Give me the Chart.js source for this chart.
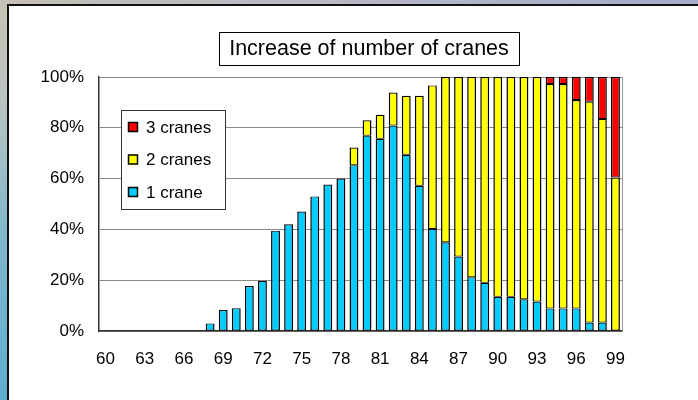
<!DOCTYPE html>
<html>
<head>
<meta charset="utf-8">
<script src="https://cdn.jsdelivr.net/npm/chart.js@4.4.1/dist/chart.umd.min.js"></script>
<style>
  html, body { margin: 0; padding: 0; }
  body {
    width: 698px; height: 400px; overflow: hidden; position: relative;
    background: linear-gradient(180deg, #c9c2b4 0%, #b9c4c2 25%, #7fb6cc 60%, #5eaed0 100%);
  }
  .top { position: absolute; left: 0; top: 0; width: 698px; height: 6px;
    background: linear-gradient(90deg, #c4bfb6 0%, #b7b8c6 50%, #a3acc8 100%); }
  .panel { position: absolute; left: 7px; top: 4px; width: 700px; height: 400px;
    background: #fff; border-left: 2px solid #111; border-top: 2px solid #111; }
  canvas { position: absolute; left: 0; top: 0; }
</style>
</head>
<body>
<div class="top"></div>
<div class="panel"></div>
<canvas id="chart" width="698" height="400"></canvas>
<script>
const titleText = 'Increase of number of cranes'

const years = []
for (let y = 60; y <= 99; y++) years.push(String(y))

// years 60..99
const oneCrane = [
  null, null, null, null, null, null, null, null, 3, 8.3,
  9, 17.7, 19.8, 39.5, 42, 47, 53, 57.7, 60, 65.3,
  76.9, 75.7, 80.9, 69.4, 57.2, 40.2, 34.9, 29.3, 21.2, 19,
  13.5, 13.5, 12.5, 11.6, 8.9, 8.9, 8.9, 3.3, 3.3, null
]
const twoCranes = [
  null, null, null, null, null, null, null, null, null, null,
  null, null, null, null, null, null, null, null, null, 6.9,
  6.1, 9.4, 13.0, 23.2, 35.4, 56.5, 65.1, 70.7, 78.8, 81,
  86.5, 86.5, 87.5, 88.4, 88.3, 88.3, 82, 87, 80.2, 60.4
]
const threeCranes = [
  null, null, null, null, null, null, null, null, null, null,
  null, null, null, null, null, null, null, null, null, null,
  null, null, null, null, null, null, null, null, null, null,
  null, null, null, null, 2.8, 2.8, 9.1, 9.7, 16.5, 39.6
]
const yTicks = [0, 20, 40, 60, 80, 100]

const font = 'Liberation Sans, Arial, sans-serif'

const decorations = {
  id: 'decorations',
  afterDraw(chart) {
    const ctx = chart.ctx
    const a = chart.chartArea
    ctx.save()
    // right edge of plot
    ctx.strokeStyle = '#9a9a9a'
    ctx.lineWidth = 1
    ctx.beginPath()
    ctx.moveTo(a.right + 0.5, a.top)
    ctx.lineTo(a.right + 0.5, a.bottom)
    ctx.stroke()

    // title box
    ctx.font = '21.5px ' + font
    const tw = ctx.measureText(titleText).width
    const cx = 369, cy = 48
    ctx.fillStyle = '#fff'
    ctx.fillRect(cx - 150, 32, 300, 33)
    ctx.strokeStyle = '#000'
    ctx.strokeRect(cx - 150 + 0.5, 32.5, 300, 33)
    ctx.fillStyle = '#000'
    ctx.textAlign = 'center'
    ctx.textBaseline = 'middle'
    ctx.fillText(titleText, cx, cy + 1)

    // legend box, top entry is last dataset
    ctx.fillStyle = '#fff'
    ctx.fillRect(121, 110, 104, 99)
    ctx.strokeStyle = '#333'
    ctx.strokeRect(121.5, 110.5, 104, 99)
    const ds = chart.data.datasets.slice().reverse()
    ctx.font = '17px ' + font
    ctx.textAlign = 'left'
    ds.forEach((d, i) => {
      const y = 127 + i * 32.5
      ctx.fillStyle = d.backgroundColor
      ctx.fillRect(128, y - 5, 10, 10)
      ctx.strokeStyle = '#000'
      ctx.lineWidth = 1.5
      ctx.strokeRect(128.5, y - 4.5, 9, 9)
      ctx.fillStyle = '#000'
      ctx.fillText(d.label, 146, y + 1)
    })
    ctx.restore()
  }
}

const barStyle = {
  borderColor: '#000',
  borderWidth: { left: 1.5, right: 1.5, top: 1.2, bottom: 1 },
  borderSkipped: false,
  barPercentage: 0.68,
  categoryPercentage: 1
}

new Chart(document.getElementById('chart'), {
  type: 'bar',
  data: {
    labels: years,
    datasets: [
      Object.assign({ label: '1 crane', data: oneCrane, backgroundColor: '#00ccff' }, barStyle),
      Object.assign({ label: '2 cranes', data: twoCranes, backgroundColor: '#ffff00' }, barStyle),
      Object.assign({ label: '3 cranes', data: threeCranes, backgroundColor: '#ff0000' }, barStyle)
    ]
  },
  options: {
    responsive: false,
    animation: false,
    layout: { padding: { left: 0, top: 77, right: 76, bottom: 0 } },
    plugins: { legend: { display: false }, tooltip: { enabled: false } },
    scales: {
      x: {
        stacked: true,
        grid: { display: false },
        border: { display: true, color: '#333', width: 1.5 },
        ticks: {
          autoSkip: false, maxRotation: 0, padding: 10,
          color: '#000', font: { family: font, size: 17 },
          callback: (v, i) => (i % 3 === 0 ? years[i] : null)
        },
        afterFit: s => { s.height = 69 }
      },
      y: {
        stacked: true,
        min: 0, max: 100,
        afterBuildTicks: s => { s.ticks = yTicks.map(v => ({ value: v })) },
        grid: { color: '#8a8a8a', drawTicks: false },
        border: { display: true, color: '#333', width: 1.5 },
        ticks: {
          padding: 15, color: '#000', font: { family: font, size: 17 },
          callback: v => v + '%'
        },
        afterFit: s => { s.width = 99 }
      }
    }
  },
  plugins: [decorations]
})
</script>
</body>
</html>
